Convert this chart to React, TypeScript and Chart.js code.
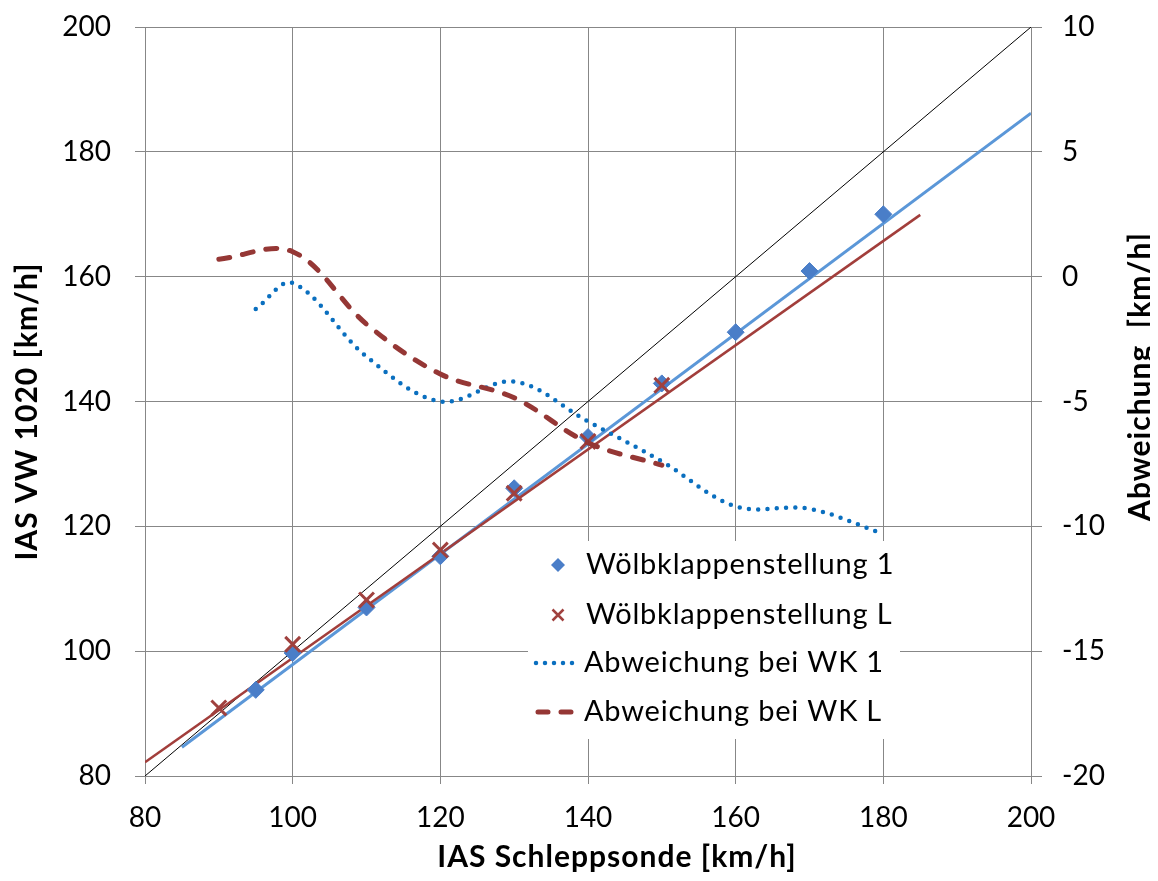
import React, { useEffect, useRef } from "react";
import { Chart, registerables } from "chart.js";

Chart.register(...registerables);

// Measured IAS values, flap setting 1
const schlepp1 = [95, 100, 110, 120, 130, 140, 150, 160, 170, 180];
const vw1 = [93.8, 99.7, 107.0, 115.2, 126.1, 134.3, 142.9, 151.1, 160.9, 170.0];
// Measured IAS values, flap setting L
const schleppL = [90, 100, 110, 120, 130, 140, 150];
const vwL = [90.9, 101.1, 108.2, 116.2, 125.3, 133.6, 142.6];
// Deviation curves (right axis)
const abw1 = [-1.3, -0.25, -3.2, -5.0, -4.2, -5.8, -7.4, -9.2, -9.3, -10.3];
const abwL = [0.7, 1.0, -1.9, -3.9, -4.85, -6.65, -7.55];
// Linear trend line end points
const trend1X = [85, 200];
const trend1Y = [84.6, 186.2];
const trendLX = [80, 185];
const trendLY = [82.2, 169.9];
// Reference line y = x
const diagX = [80, 200];
const diagY = [80, 200];

const xTicks = [80, 100, 120, 140, 160, 180, 200];
const legendLabels = [
  "Wölbklappenstellung 1",
  "Wölbklappenstellung L",
  "Abweichung bei WK 1",
  "Abweichung bei WK L",
];

const BLUE_MARK = "#4A7EC8";
const BLUE_TREND = "#5B97D8";
const RED_MARK = "#A0413E";
const RED_TREND = "#A23E3B";
const BLUE_DOT = "#0A6FBF";
const RED_DASH = "#953735";
const GRID = "#878787";
const FONT = "Lato, 'Open Sans', sans-serif";

const W = 1158;
const H = 881;

const pts = (xs: number[], ys: number[]) => xs.map((x, i) => ({ x, y: ys[i] }));

const overlayPlugin = {
  id: "overlay",
  afterDraw(chart: any) {
    const { ctx, chartArea } = chart;
    const ca = chartArea;
    ctx.save();
    ctx.fillStyle = "#000";
    ctx.textAlign = "center";
    ctx.textBaseline = "middle";
    ctx.font = `bold 30px ${FONT}`;
    (ctx as any).letterSpacing = "1px";
    // x axis title
    ctx.fillText("IAS Schleppsonde [km/h]", (ca.left + ca.right) / 2 + 29, ca.bottom + 81);
    // left axis title
    ctx.save();
    ctx.translate(ca.left - 118, (ca.top + ca.bottom) / 2 + 10);
    ctx.rotate(-Math.PI / 2);
    ctx.fillText("IAS VW 1020 [km/h]", 0, 0);
    ctx.restore();
    // right axis title
    ctx.save();
    ctx.translate(ca.right + 109, (ca.top + ca.bottom) / 2 - 25);
    ctx.rotate(-Math.PI / 2);
    ctx.fillText("Abweichung  [km/h]", 0, 0);
    ctx.restore();

    // legend box
    const lx = ca.left + 383;
    const ly = ca.top + 514;
    ctx.fillStyle = "#fff";
    ctx.fillRect(lx, ly, 372, 198);
    const rows = [ly + 24, ly + 74, ly + 122, ly + 171];
    const symX = lx + 30;
    const textX = lx + 58;
    // diamond
    ctx.fillStyle = BLUE_MARK;
    ctx.beginPath();
    ctx.moveTo(symX, rows[0] - 7);
    ctx.lineTo(symX + 7, rows[0]);
    ctx.lineTo(symX, rows[0] + 7);
    ctx.lineTo(symX - 7, rows[0]);
    ctx.closePath();
    ctx.fill();
    // cross
    ctx.strokeStyle = RED_MARK;
    ctx.lineWidth = 2.5;
    ctx.beginPath();
    ctx.moveTo(symX - 5.5, rows[1] - 5.5);
    ctx.lineTo(symX + 5.5, rows[1] + 5.5);
    ctx.moveTo(symX + 5.5, rows[1] - 5.5);
    ctx.lineTo(symX - 5.5, rows[1] + 5.5);
    ctx.stroke();
    // dotted line
    ctx.strokeStyle = BLUE_DOT;
    ctx.lineWidth = 4.5;
    ctx.lineCap = "round";
    ctx.setLineDash([0, 9]);
    ctx.beginPath();
    ctx.moveTo(symX - 22, rows[2]);
    ctx.lineTo(symX + 22, rows[2]);
    ctx.stroke();
    // dashed line
    ctx.strokeStyle = RED_DASH;
    ctx.lineWidth = 5;
    ctx.setLineDash([10, 13]);
    ctx.beginPath();
    ctx.moveTo(symX - 20, rows[3]);
    ctx.lineTo(symX + 24, rows[3]);
    ctx.stroke();
    ctx.setLineDash([]);
    // labels
    ctx.fillStyle = "#000";
    ctx.textAlign = "left";
    ctx.font = `29px ${FONT}`;
    (ctx as any).letterSpacing = "0.8px";
    legendLabels.forEach((t, i) => ctx.fillText(t, textX - (i > 1 ? 2 : 0), rows[i]));
    ctx.restore();
  },
};

const noPad = (s: any) => {
  s.paddingTop = 0;
  s.paddingBottom = 0;
  s.paddingLeft = 0;
  s.paddingRight = 0;
};

export default function App() {
  const canvasRef = useRef<HTMLCanvasElement | null>(null);

  useEffect(() => {
    if (!canvasRef.current) return;
    const chart = new Chart(canvasRef.current, {
      type: "line",
      data: {
        datasets: [
          {
            label: "diag",
            data: pts(diagX, diagY),
            borderColor: "#000",
            borderWidth: 1,
            pointRadius: 0,
            yAxisID: "y",
            order: 10,
          },
          {
            label: "trend1",
            data: pts(trend1X, trend1Y),
            borderColor: BLUE_TREND,
            borderWidth: 3,
            pointRadius: 0,
            yAxisID: "y",
            order: 9,
          },
          {
            label: "trendL",
            data: pts(trendLX, trendLY),
            borderColor: RED_TREND,
            borderWidth: 2.5,
            pointRadius: 0,
            yAxisID: "y",
            order: 8,
          },
          {
            label: legendLabels[0],
            data: pts(schlepp1, vw1),
            showLine: false,
            pointStyle: "rectRot",
            pointRadius: 8.5,
            backgroundColor: BLUE_MARK,
            borderColor: BLUE_MARK,
            borderWidth: 1,
            yAxisID: "y",
            order: 7,
          },
          {
            label: legendLabels[1],
            data: pts(schleppL, vwL),
            showLine: false,
            pointStyle: "crossRot",
            pointRadius: 10.5,
            borderColor: RED_MARK,
            borderWidth: 3,
            yAxisID: "y",
            order: 6,
          },
          {
            label: legendLabels[2],
            data: pts(schlepp1, abw1),
            borderColor: BLUE_DOT,
            borderWidth: 4.5,
            borderDash: [0, 9.3],
            borderCapStyle: "round",
            tension: 0.35,
            pointRadius: 0,
            yAxisID: "y2",
            order: 5,
          },
          {
            label: legendLabels[3],
            data: pts(schleppL, abwL),
            borderColor: RED_DASH,
            borderWidth: 5,
            borderDash: [11, 13],
            borderCapStyle: "round",
            tension: 0.35,
            pointRadius: 0,
            yAxisID: "y2",
            order: 4,
          },
        ],
      },
      options: {
        responsive: false,
        animation: false,
        events: [],
        layout: { padding: { top: 27, left: 0, right: 0, bottom: 0 } },
        plugins: { legend: { display: false }, tooltip: { enabled: false } },
        scales: {
          x: {
            type: "linear",
            min: 80,
            max: 200,
            afterBuildTicks: (s: any) => {
              s.ticks = xTicks.map((v) => ({ value: v }));
            },
            afterFit: (s: any) => {
              s.height = 105;
              noPad(s);
            },
            ticks: { font: { family: FONT, size: 28 }, color: "#000", padding: 17 },
            grid: { color: GRID, tickLength: 8, lineWidth: 1 },
            border: { color: GRID },
          },
          y: {
            type: "linear",
            position: "left",
            min: 80,
            max: 200,
            ticks: { stepSize: 20, font: { family: FONT, size: 28 }, color: "#000", padding: 24 },
            afterFit: (s: any) => {
              s.width = 145;
              noPad(s);
            },
            grid: { color: GRID, tickLength: 10, lineWidth: 1 },
            border: { color: GRID },
          },
          y2: {
            type: "linear",
            position: "right",
            min: -20,
            max: 10,
            ticks: { stepSize: 5, font: { family: FONT, size: 28 }, color: "#000", padding: 20 },
            afterFit: (s: any) => {
              s.width = W - 1031;
              noPad(s);
            },
            grid: { color: GRID, tickLength: 11, lineWidth: 1, drawOnChartArea: false },
            border: { color: GRID },
          },
        },
      } as any,
      plugins: [overlayPlugin],
    });
    return () => chart.destroy();
  }, []);

  return (
    <div style={{ width: W, height: H, margin: -8 }}>
      <canvas ref={canvasRef} width={W} height={H} style={{ display: "block" }} />
    </div>
  );
}
